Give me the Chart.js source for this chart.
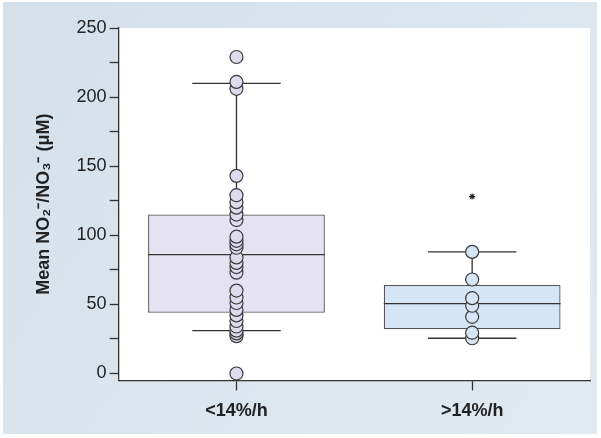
<!DOCTYPE html>
<html>
<head>
<meta charset="utf-8">
<script src="https://cdn.jsdelivr.net/npm/chart.js@4.4.1/dist/chart.umd.min.js"></script>
<style>
  body { margin: 0; background: #fff; }
  canvas { display: block; }
</style>
</head>
<body>
<canvas id="boxChart" width="601" height="438"></canvas>
<script>
// data
const categories = ['<14%/h', '>14%/h'];
const q1 = [44, 32];
const median = [86, 50.5];
const q3 = [115, 64];
const whiskerLow = [31, 25.5];
const whiskerHigh = [210, 88];
const pointsLow = [0, 27, 29, 31, 34, 38, 42, 46, 51, 55, 60, 73, 77, 80, 84, 91, 93.5, 96, 99, 111, 115, 120, 124, 129, 143, 206, 211, 229];
const pointsHigh = [25.5, 29.5, 41, 49, 54.5, 68, 88];
const outliersHigh = [128];
const yTicks = [0, 25, 50, 75, 100, 125, 150, 175, 200, 225, 250];

const boxFill = ['#e5e3f1', '#d4e5f5'];
const dotFill = ['#dddcee', '#d5e5f5'];

var ctx = document.getElementById('boxChart').getContext('2d');

// background panel + white plot area
const panelPlugin = {
    id: 'panel',
    beforeDraw(chart) {
        const c = chart.ctx;
        const a = chart.chartArea;
        c.save();
        c.fillStyle = '#ffffff';
        c.fillRect(0, 0, chart.width, chart.height);
        const g = c.createLinearGradient(0, 0, chart.width, chart.height);
        g.addColorStop(0, '#d4e0ea');
        g.addColorStop(1, '#e2eaf0');
        c.fillStyle = g;
        c.fillRect(3, 2, 594, 432);
        c.fillStyle = '#ffffff';
        c.fillRect(a.left, a.top, a.right - a.left, a.bottom - a.top);
        c.restore();
    }
};

// whiskers and median lines, drawn after the boxes and before the dots
const whiskerPlugin = {
    id: 'whiskers',
    afterDatasetDraw(chart, args) {
        if (args.index !== 0) return;
        const c = chart.ctx;
        const y = chart.scales.y;
        const bars = chart.getDatasetMeta(0).data;
        c.save();
        c.strokeStyle = '#333';
        c.lineWidth = 1.3;
        bars.forEach((bar, i) => {
            const x = bar.x;
            const half = bar.width / 2;
            const cap = bar.width / 4;
            c.beginPath();
            c.moveTo(x, y.getPixelForValue(q3[i]));
            c.lineTo(x, y.getPixelForValue(whiskerHigh[i]));
            c.moveTo(x - cap, y.getPixelForValue(whiskerHigh[i]));
            c.lineTo(x + cap, y.getPixelForValue(whiskerHigh[i]));
            c.moveTo(x, y.getPixelForValue(q1[i]));
            c.lineTo(x, y.getPixelForValue(whiskerLow[i]));
            c.moveTo(x - cap, y.getPixelForValue(whiskerLow[i]));
            c.lineTo(x + cap, y.getPixelForValue(whiskerLow[i]));
            c.moveTo(x - half, y.getPixelForValue(median[i]));
            c.lineTo(x + half, y.getPixelForValue(median[i]));
            c.stroke();
        });
        c.restore();
    }
};

new Chart(ctx, {
    type: 'bar',
    data: {
        labels: categories,
        datasets: [
            {
                label: 'IQR',
                data: categories.map((c, i) => [q1[i], q3[i]]),
                backgroundColor: boxFill,
                borderColor: '#555',
                borderWidth: 1.3,
                borderSkipped: false,
                barPercentage: 0.75,
                categoryPercentage: 1,
                order: 3
            },
            {
                type: 'line',
                label: categories[0],
                data: pointsLow.map(v => ({ x: categories[0], y: v })),
                showLine: false,
                pointRadius: 6.5,
                pointBackgroundColor: dotFill[0],
                pointBorderColor: '#3a3a3a',
                pointBorderWidth: 1.2,
                order: 1
            },
            {
                type: 'line',
                label: categories[1],
                data: pointsHigh.map(v => ({ x: categories[1], y: v })),
                showLine: false,
                pointRadius: 6.5,
                pointBackgroundColor: dotFill[1],
                pointBorderColor: '#3a3a3a',
                pointBorderWidth: 1.2,
                order: 1
            },
            {
                type: 'line',
                label: 'outlier',
                data: outliersHigh.map(v => ({ x: categories[1], y: v })),
                showLine: false,
                pointStyle: 'star',
                pointRadius: 3,
                pointBorderColor: '#222',
                pointBorderWidth: 1.1,
                order: 0
            }
        ]
    },
    options: {
        responsive: false,
        animation: false,
        layout: { padding: { left: 33, top: 28, right: 11, bottom: 6 } },
        plugins: {
            legend: { display: false },
            tooltip: { enabled: false }
        },
        scales: {
            x: {
                offset: true,
                grid: {
                    offset: false,
                    drawOnChartArea: false,
                    tickLength: 10,
                    tickColor: '#333',
                    tickWidth: 1.3
                },
                border: { color: '#333', width: 1.3 },
                ticks: {
                    color: '#222',
                    padding: 10,
                    font: { family: 'Liberation Sans, Arial, sans-serif', size: 18, weight: 'bold' }
                }
            },
            y: {
                min: -5,
                max: 250,
                afterBuildTicks(scale) {
                    scale.ticks = yTicks.map(v => ({ value: v }));
                },
                grid: {
                    drawOnChartArea: false,
                    tickLength: 9,
                    tickColor: '#333',
                    tickWidth: 1.3
                },
                border: { color: '#333', width: 1.3 },
                ticks: {
                    color: '#222',
                    padding: 3,
                    autoSkip: false,
                    font: { family: 'Liberation Sans, Arial, sans-serif', size: 18 },
                    callback: v => (v % 50 === 0 ? v : '')
                },
                title: {
                    display: true,
                    text: 'Mean NO₂⁻/NO₃⁻ (μM)',
                    color: '#222',
                    padding: { top: 0, bottom: 19 },
                    font: { family: 'Liberation Sans, Arial, sans-serif', size: 18, weight: 'bold' }
                }
            }
        }
    },
    plugins: [panelPlugin, whiskerPlugin]
});
</script>
</body>
</html>
